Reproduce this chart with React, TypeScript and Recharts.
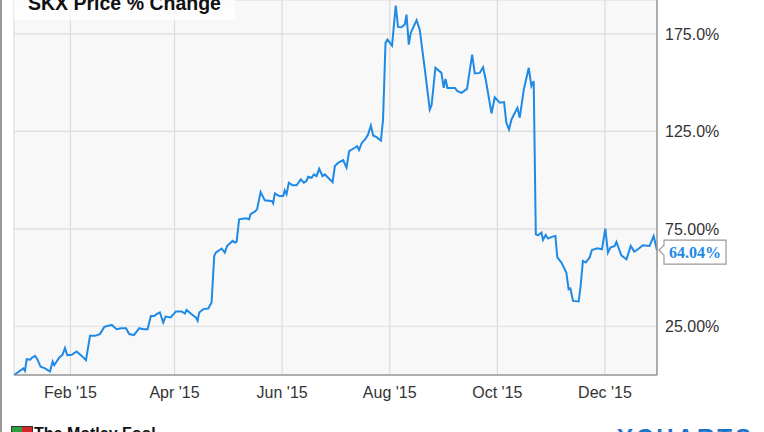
import React from 'react';
import { LineChart, Line, XAxis, YAxis, CartesianGrid, ReferenceDot } from 'recharts';

// day of 2015 (0 = Jan 1) and SKX price % change
const days = [
  -1, 4.3, 5.2, 6.2, 8.1, 9.4, 10.9, 12.2, 14.1, 16.6,
  19.4, 20.9, 21.8, 24.7, 26.4, 27.9, 29.2, 31.7, 34.5, 37.4,
  39.8, 42.1, 44.9, 47.7, 50.2, 54.4, 57.2, 59.6, 62.5, 64.3,
  67, 70, 72.3, 74.7, 76.6, 78.5, 79.8, 81.7, 83.6, 84.9,
  87.8, 90.8, 94, 95.9, 96.8, 99.7, 102.1, 103.1, 104, 106.3,
  109.1, 111, 112.5, 113.4, 116.7, 118.5, 119.8, 122.9, 124.2, 125.2,
  126.6, 130.4, 132.3, 133.1, 135.5, 136.8, 138.8, 141.2, 145.3, 145.9,
  146.9, 149.3, 151.6, 152.5, 153.5, 154.8, 156.9, 159.2, 161.6, 163.3,
  164.8, 165.7, 167.7, 169, 170.5, 172, 173.9, 175.2, 177.1, 179.6,
  180.9, 182.7, 185.6, 187.5, 189, 192.2, 193.5, 194.6, 196, 198.3,
  199.7, 201.3, 202.6, 204.5, 207, 208.2, 209.6, 210.7, 213.3, 215.4,
  216.7, 218.7, 220.5, 221.5, 222.8, 223.9, 227.2, 229, 231.9, 234.7,
  235.7, 237.9, 241.3, 242.6, 243.6, 244.7, 248.9, 250.4, 252.7, 255.8,
  258.7, 260.2, 263, 264.9, 266.4, 269.7, 271.5, 274.4, 276.8, 278.1,
  279.6, 281, 284.4, 285.7, 288, 290.8, 292.3, 293.6, 294.8, 296.1,
  298, 298.9, 300.4, 301.7, 304.2, 305.9, 307, 309.3, 312.1, 313.4,
  314.4, 315.9, 319.1, 320.2, 321.5, 323.1, 325.3, 326.6, 329.7, 332.3,
  334.2, 335.7, 337.1, 339.5, 340.5, 342, 343.3, 346.2, 348.6, 350.6,
  352.7, 355.5, 359.3, 361.6, 363.5,
];

const pctChange = [
  0, 3.4, 2.2, 8.1, 7.8, 9, 9.8, 8.1, 4.2, 3.4,
  1.8, 6.9, 5, 9, 10.2, 13.8, 10.2, 10.4, 12.1, 9.8,
  7.6, 20.1, 20.1, 21, 24.7, 25.7, 23.5, 24, 24, 21,
  20.5, 24, 23.5, 23.5, 30.3, 30.3, 31.2, 32.1, 26.9, 30,
  29.5, 32.6, 32.6, 31.5, 33.4, 31.2, 29.5, 27.8, 32.1, 33.8,
  34.1, 37.2, 61.1, 62.8, 64.9, 62.8, 66.2, 68.8, 67.9, 68.3,
  79.9, 80.4, 79.9, 82.5, 83.8, 85, 93.9, 89.6, 89.2, 88.1,
  93.2, 91.8, 91.8, 94.7, 92.7, 98.7, 97.3, 97.3, 100.4, 98.7,
  99.5, 101.7, 101.2, 102.9, 102, 105.8, 102, 102.9, 101.2, 99,
  107.2, 108.9, 110.2, 106.4, 114.9, 116.6, 117.4, 115.4, 118.8, 121.2,
  123.4, 128, 122.9, 122, 120.3, 131.1, 170.4, 172.1, 169, 189.5,
  178.6, 178.4, 179.8, 184.9, 169.5, 175.5, 182, 177.2, 156.7, 136.2,
  138.4, 157.6, 155, 147.3, 151.9, 147.3, 147.3, 145.6, 144.8, 146.8,
  164.4, 154.7, 155, 157.9, 151.6, 134.2, 142.5, 139.7, 140, 129.4,
  126, 131.1, 137.1, 132, 146.5, 157.6, 148.2, 150.7, 72.2, 71.7,
  73.1, 69.3, 71.8, 70, 71, 71.3, 60.3, 57.7, 52.6, 44,
  44.4, 38, 37.7, 45.7, 58.5, 57.7, 60.3, 64.1, 65, 64.5,
  75.1, 62.8, 65.4, 66.2, 68.3, 64.5, 61.4, 59.3, 66.2, 63.3,
  64.5, 66.6, 66.2, 71.3, 64.04,
];

const monthTicks = [31, 90, 151, 212, 273, 334];
const monthLabels = ["Feb '15", "Apr '15", "Jun '15", "Aug '15", "Oct '15", "Dec '15"];
const pctTicks = [25, 75, 125, 175];
const pctLabels = ['25.00%', '75.00%', '125.0%', '175.0%'];

const data = days.map((d, i) => ({ day: d, pct: pctChange[i] }));
const last = data[data.length - 1];

const BLUE = '#1e8ae6';
const FONT = '"Liberation Sans", Arial, sans-serif';

const Callout = (props: any) => {
  const { cx, cy } = props;
  if (cx == null || cy == null) return null;
  const l = cx + 7, r = cx + 69, t = cy - 10, b = cy + 14;
  const d = `M${l},${t} L${r},${t} L${r},${b} L${l},${b} L${l},${cy + 5} L${cx + 2},${cy} L${l},${cy - 5} Z`;
  return (
    <g>
      <path d={d} fill="#fff" stroke="#999" strokeWidth={1.2} />
      <text x={(l + r) / 2} y={cy + 8} textAnchor="middle" fill={BLUE}
        style={{ fontFamily: '"Liberation Serif", serif', fontWeight: 'bold', fontSize: 16 }}>
        {last.pct.toFixed(2)}%
      </text>
    </g>
  );
};

export default function App() {
  return (
    <div style={{ position: 'absolute', left: 0, top: 0, width: 764, height: 432, overflow: 'hidden', background: '#fff', fontFamily: FONT }}>
      <div style={{ position: 'absolute', left: 0, top: 0, width: 2, height: 432, background: '#9a9a9a' }} />
      <LineChart width={764} height={432} data={data} margin={{ top: 0, right: 0, left: 14, bottom: 0 }}>
        <CartesianGrid stroke="#dcdcdc" strokeWidth={1.2} fill="#f8f8f8" yAxisId="right" />
        <XAxis
          dataKey="day"
          type="number"
          domain={[-1, 363.5]}
          ticks={monthTicks}
          tickFormatter={(v) => monthLabels[monthTicks.indexOf(v)]}
          height={57}
          tickLine={false}
          axisLine={{ stroke: '#999', strokeWidth: 1.5 }}
          tick={{ fill: '#333', fontSize: 16, fontFamily: FONT }}
          tickMargin={6}
        />
        <YAxis
          yAxisId="left"
          orientation="left"
          width={0}
          domain={[0, 192.4]}
          allowDataOverflow
          tick={false}
          tickLine={false}
          axisLine={{ stroke: '#999', strokeWidth: 1.5 }}
        />
        <YAxis
          yAxisId="right"
          orientation="right"
          width={107}
          domain={[0, 192.4]}
          allowDataOverflow
          ticks={pctTicks}
          tickFormatter={(v) => pctLabels[pctTicks.indexOf(v)]}
          tickLine={false}
          axisLine={{ stroke: '#999', strokeWidth: 1.5 }}
          tick={{ fill: '#333', fontSize: 16, fontFamily: FONT }}
        />
        <Line
          yAxisId="right"
          type="linear"
          dataKey="pct"
          stroke={BLUE}
          strokeWidth={2}
          dot={false}
          isAnimationActive={false}
        />
        <ReferenceDot yAxisId="right" x={last.day} y={last.pct} r={0} ifOverflow="visible" shape={Callout} />
      </LineChart>
      <div style={{ position: 'absolute', left: 14, top: 0, width: 221, height: 20, background: 'rgba(255,255,255,0.75)' }} />
      <div style={{ position: 'absolute', left: 28, top: -7, fontSize: 19.5, fontWeight: 'bold', color: '#111', whiteSpace: 'nowrap', lineHeight: '20px' }}>
        SKX Price % Change
      </div>
      <div style={{ position: 'absolute', left: 11, top: 426, width: 20, height: 20, display: 'grid', gridTemplateColumns: '1fr 1fr', border: '1px solid #333' }}>
        <div style={{ background: '#2e9e3e' }} />
        <div style={{ background: '#d7252c' }} />
        <div style={{ background: '#2452b5' }} />
        <div style={{ background: '#f2c21b' }} />
      </div>
      <div style={{ position: 'absolute', left: 34, top: 425, fontSize: 16, fontWeight: 'bold', color: '#111', whiteSpace: 'nowrap' }}>
        The Motley Fool
      </div>
      <div style={{ position: 'absolute', left: 617, top: 424, fontSize: 24, fontWeight: 'bold', color: '#1a73c8', letterSpacing: 3, whiteSpace: 'nowrap' }}>
        YCHARTS
      </div>
    </div>
  );
}
